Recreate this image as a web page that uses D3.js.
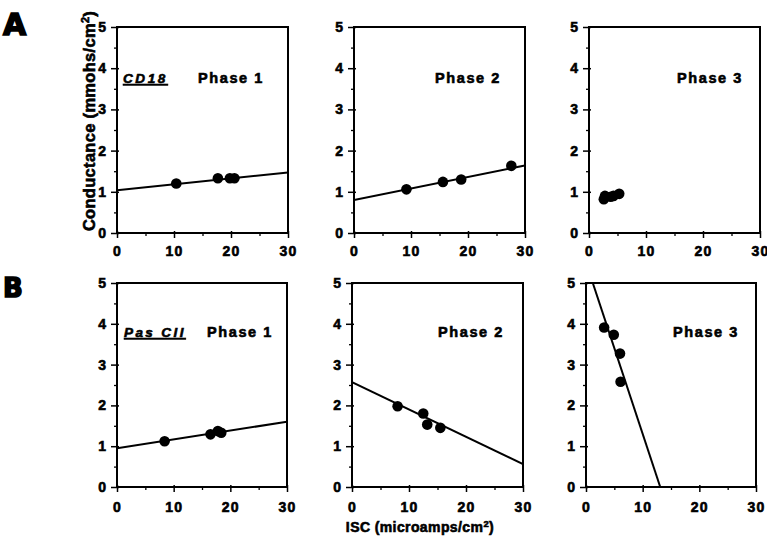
<!DOCTYPE html>
<html>
<head>
<meta charset="utf-8">
<script src="https://cdn.jsdelivr.net/npm/d3@7"></script>
<style>
  html, body { margin: 0; padding: 0; background: #fff; }
  svg { display: block; }
  text { font-family: "Liberation Sans", Arial, sans-serif; font-weight: bold; fill: #000; }
</style>
</head>
<body>
<svg id="chart" width="767" height="539"></svg>
<script>
// ---------- data ----------
const xTicks = [0, 10, 20, 30];
const yTicks = [0, 1, 2, 3, 4, 5];
const xMinorTicks = [5, 15, 25];
const yMinorTicks = [0.5, 1.5, 2.5, 3.5, 4.5];
const rowLetters = ["A", "B"];
const groupLabels = ["CD18", "Pas CII"];
const phaseLabels = ["Phase 1", "Phase 2", "Phase 3"];
const yAxisTitle = "Conductance (mmohs/cm";
const xAxisTitle = "ISC (microamps/cm";

// points per panel (row A: CD18, row B: Pas CII)
const a1X = [10.4, 17.7, 19.8, 20.6];
const a1Y = [1.2, 1.33, 1.33, 1.33];
const a2X = [9.2, 15.6, 18.8, 27.6];
const a2Y = [1.06, 1.24, 1.30, 1.63];
const a3X = [2.6, 2.8, 3.8, 4.3, 5.3];
const a3Y = [0.82, 0.9, 0.88, 0.9, 0.95];
const b1X = [8.4, 16.5, 17.8, 18.4];
const b1Y = [1.12, 1.29, 1.37, 1.33];
const b2X = [8.0, 12.5, 13.2, 15.5];
const b2Y = [1.98, 1.80, 1.53, 1.45];
const b3X = [3.2, 4.9, 6.0, 6.1];
const b3Y = [3.91, 3.73, 3.27, 2.58];

// regression line end points [x, y]
const a1Line = [[0, 1.04], [30, 1.47]];
const a2Line = [[0, 0.8], [30, 1.64]];
const a3Line = null;
const b1Line = [[0, 0.95], [30, 1.6]];
const b2Line = [[0, 2.57], [30, 0.56]];
const b3Line = [[1.2, 5], [13.1, 0]];

// ---------- layout ----------
const panels = [
  { row: 0, col: 0, x: a1X, y: a1Y, line: a1Line, left: 117, top: 27, w: 171, h: 206, labelDx: 81 },
  { row: 0, col: 1, x: a2X, y: a2Y, line: a2Line, left: 354, top: 27, w: 171, h: 206, labelDx: 81 },
  { row: 0, col: 2, x: a3X, y: a3Y, line: a3Line, left: 589, top: 27, w: 171, h: 206, labelDx: 88 },
  { row: 1, col: 0, x: b1X, y: b1Y, line: b1Line, left: 117, top: 283, w: 170, h: 204, labelDx: 90 },
  { row: 1, col: 1, x: b2X, y: b2Y, line: b2Line, left: 352, top: 283, w: 171, h: 204, labelDx: 86 },
  { row: 1, col: 2, x: b3X, y: b3Y, line: b3Line, left: 586, top: 283, w: 170, h: 204, labelDx: 87 }
];

const svg = d3.select("#chart");
svg.append("rect").attr("width", 767).attr("height", 539).attr("fill", "#fff");

const heavy = s => s.attr("stroke", "#000").attr("stroke-width", 0.6).attr("paint-order", "stroke");

panels.forEach((p, i) => {
  const g = svg.append("g").attr("transform", `translate(${p.left},${p.top})`);
  const x = d3.scaleLinear().domain([0, 30]).range([0, p.w]);
  const y = d3.scaleLinear().domain([0, 5]).range([p.h, 0]);

  const clipId = "clip" + i;
  g.append("clipPath").attr("id", clipId)
    .append("rect").attr("width", p.w).attr("height", p.h);

  // minor ticks
  g.append("g").attr("transform", `translate(0,${p.h})`)
    .call(d3.axisBottom(x).tickValues(xMinorTicks).tickSize(3).tickFormat(""))
    .call(s => s.select(".domain").remove())
    .selectAll("line").attr("stroke-width", 1.3);
  g.append("g")
    .call(d3.axisLeft(y).tickValues(yMinorTicks).tickSize(3).tickFormat(""))
    .call(s => s.select(".domain").remove())
    .selectAll("line").attr("stroke-width", 1.3);

  // major axes
  const xa = g.append("g").attr("transform", `translate(0,${p.h})`)
    .attr("font-size", 14).attr("font-family", "'Liberation Sans', Arial, sans-serif")
    .call(d3.axisBottom(x).tickValues(xTicks).tickSize(5).tickPadding(p.row === 0 ? 8 : 10).tickFormat(d3.format("d")));
  xa.select(".domain").remove();
  xa.selectAll("line").attr("y1", -2).attr("stroke-width", 1.5);
  xa.selectAll("text").style("font-size", "14px").style("letter-spacing", "1.2px")
    .style("font-weight", "bold").attr("fill", "#000")
    .call(heavy);

  const ya = g.append("g")
    .attr("font-size", 14).attr("font-family", "'Liberation Sans', Arial, sans-serif")
    .call(d3.axisLeft(y).tickValues(yTicks).tickSize(6).tickPadding(5).tickFormat(d3.format("d")));
  ya.select(".domain").remove();
  ya.selectAll("line").attr("x1", 2).attr("stroke-width", 1.5);
  ya.selectAll("text").style("font-size", "14px")
    .style("font-weight", "bold").attr("fill", "#000")
    .call(heavy);

  // frame
  g.append("rect").attr("width", p.w).attr("height", p.h)
    .attr("fill", "none").attr("stroke", "#000").attr("stroke-width", 2);

  // regression line
  if (p.line) {
    g.append("line")
      .attr("clip-path", `url(#${clipId})`)
      .attr("x1", x(p.line[0][0])).attr("y1", y(p.line[0][1]))
      .attr("x2", x(p.line[1][0])).attr("y2", y(p.line[1][1]))
      .attr("stroke", "#000").attr("stroke-width", 2);
  }

  // points
  g.selectAll("circle.pt").data(d3.range(p.x.length)).join("circle")
    .attr("class", "pt")
    .attr("cx", k => x(p.x[k])).attr("cy", k => y(p.y[k]))
    .attr("r", 5.3).attr("fill", "#000");

  // phase label
  g.append("text")
    .attr("x", p.labelDx).attr("y", p.row === 0 ? 56 : 54)
    .style("font-size", "14.5px").style("letter-spacing", "1.6px")
    .call(heavy)
    .text(phaseLabels[p.col]);

  // group label
  if (p.col === 0) {
    g.append("text")
      .attr("x", p.row === 0 ? 6 : 7).attr("y", p.row === 0 ? 56 : 54)
      .style("font-size", "13.5px").style("font-style", "italic")
      .style("letter-spacing", p.row === 0 ? "2.6px" : "2.4px")
      .style("text-decoration", "underline")
      .call(heavy)
      .text(groupLabels[p.row]);
  }
});

// row letters
svg.selectAll("text.letter").data(rowLetters).join("text")
  .attr("class", "letter")
  .attr("x", 3).attr("y", (d, i) => i === 0 ? 35 : 297)
  .style("font-family", "'DejaVu Sans', sans-serif")
  .style("font-size", (d, i) => i === 0 ? "30px" : "26px")
  .attr("stroke", "#000").attr("stroke-width", 1.6)
  .text(d => d);

// y axis title
const yt = svg.append("text")
  .attr("transform", "translate(95,121) rotate(-90)")
  .attr("text-anchor", "middle")
  .style("font-size", "16.5px").style("letter-spacing", "0.3px")
  .call(heavy);
yt.append("tspan").text(yAxisTitle);
yt.append("tspan").attr("dy", -6).style("font-size", "11px").text("2");
yt.append("tspan").attr("dy", 6).text(")");

// x axis title
const xt = svg.append("text")
  .attr("x", 420).attr("y", 532)
  .attr("text-anchor", "middle")
  .style("font-size", "14px").style("letter-spacing", "0.4px")
  .call(heavy);
xt.append("tspan").text(xAxisTitle);
xt.append("tspan").attr("dy", -5).style("font-size", "9.5px").text("2");
xt.append("tspan").attr("dy", 5).text(")");
</script>
</body>
</html>
